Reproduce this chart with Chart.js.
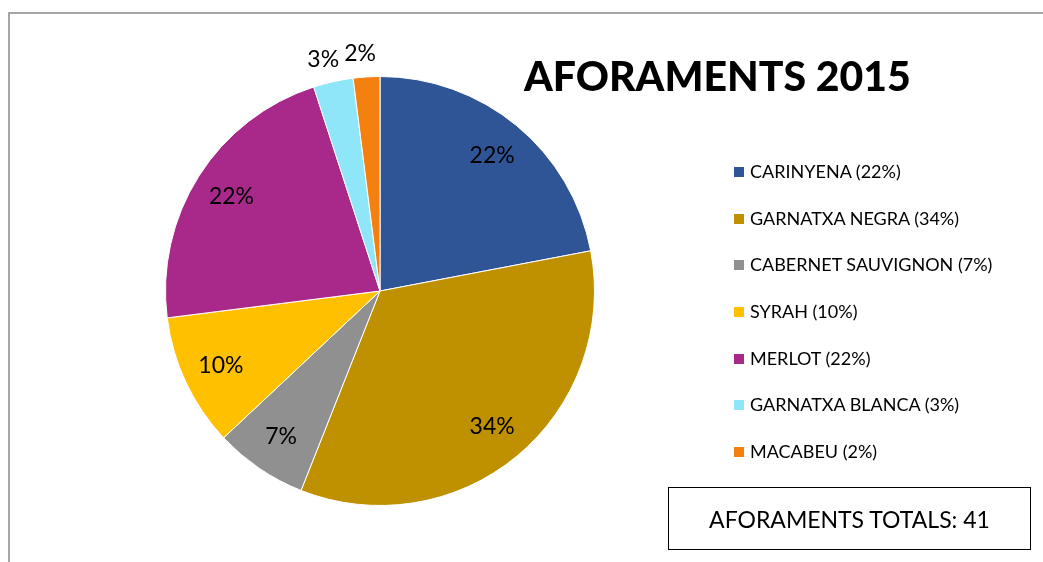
<!DOCTYPE html>
<html>
<head>
<meta charset="utf-8">
<script src="https://cdn.jsdelivr.net/npm/chart.js@4"></script>
<style>
  body { margin: 0; background: #fff; font-family: Lato, "Open Sans", sans-serif; }
  #wrap { position: relative; width: 1043px; height: 562px; overflow: hidden; }
  #frame { position: absolute; left: 8px; top: 12px; width: 1100px; height: 600px;
           border-left: 2px solid #a6a6a6; border-top: 2px solid #a6a6a6; }
  canvas { position: absolute; left: 0; top: 0; }
  #title { position: absolute; left: 524px; top: 51px; font-size: 41px; font-weight: 900; color: #000; white-space: nowrap; }
  #legend { position: absolute; left: 734px; top: 160px; }
  .item { height: 46.7px; display: flex; align-items: flex-start; font-size: 18px; color: #000; white-space: nowrap; }
  .sw { width: 10px; height: 10px; margin: 7px 6px 0 0; }
  #total { position: absolute; left: 668px; top: 487px; width: 361px; height: 61px; border: 1.5px solid #000;
           font-size: 23px; display: flex; align-items: center; justify-content: center; }
</style>
</head>
<body>
<div id="wrap">
  <div id="frame"></div>
  <canvas id="pie" width="1043" height="562"></canvas>
  <div id="title">AFORAMENTS 2015</div>
  <div id="legend"></div>
  <div id="total"></div>
</div>
<script>
// varietats i percentatges
const varieties = ["CARINYENA", "GARNATXA NEGRA", "CABERNET SAUVIGNON", "SYRAH", "MERLOT", "GARNATXA BLANCA", "MACABEU"];
const percents = [22, 34, 7, 10, 22, 3, 2];
const colors = ["#2f5597", "#bf9000", "#909090", "#ffc000", "#a9298a", "#8fe6f9", "#f4800f"];
const outsideLabel = [false, false, false, false, false, true, true];
const totalCount = 41;

// Legend + total box
const legend = document.getElementById("legend");
varieties.forEach((name, i) => {
    const row = document.createElement("div");
    row.className = "item";
    row.innerHTML = `<span class="sw" style="background:${colors[i]}"></span><span>${name} (${percents[i]}%)</span>`;
    legend.appendChild(row);
});
document.getElementById("total").innerText = "AFORAMENTS TOTALS: " + totalCount;

// Draw percentage labels on the slices
const pctLabels = {
    id: "pctLabels",
    afterDatasetsDraw(chart) {
        const ctx = chart.ctx;
        const meta = chart.getDatasetMeta(0);
        ctx.save();
        ctx.font = "23px Lato, 'Open Sans', sans-serif";
        ctx.fillStyle = "#000";
        ctx.textAlign = "center";
        ctx.textBaseline = "middle";
        meta.data.forEach((arc, i) => {
            const mid = (arc.startAngle + arc.endAngle) / 2;
            const r = outsideLabel[i] ? arc.outerRadius + 23 : arc.outerRadius * 0.82;
            let x = arc.x + Math.cos(mid) * r;
            const y = arc.y + Math.sin(mid) * r;
            // nudge the two small outside labels apart a bit
            if (outsideLabel[i]) x -= 5;
            ctx.fillText(percents[i] + "%", x, y);
        });
        ctx.restore();
    }
};

new Chart(document.getElementById("pie"), {
    type: "pie",
    data: {
        labels: varieties,
        datasets: [{
            data: percents,
            backgroundColor: colors,
            borderColor: "#ffffff",
            borderWidth: 1
        }]
    },
    options: {
        responsive: false,
        animation: false,
        layout: { padding: { left: 165, top: 76, right: 448, bottom: 56 } },
        plugins: {
            legend: { display: false },
            title: { display: false },
            tooltip: { enabled: false }
        }
    },
    plugins: [pctLabels]
});
</script>
</body>
</html>
